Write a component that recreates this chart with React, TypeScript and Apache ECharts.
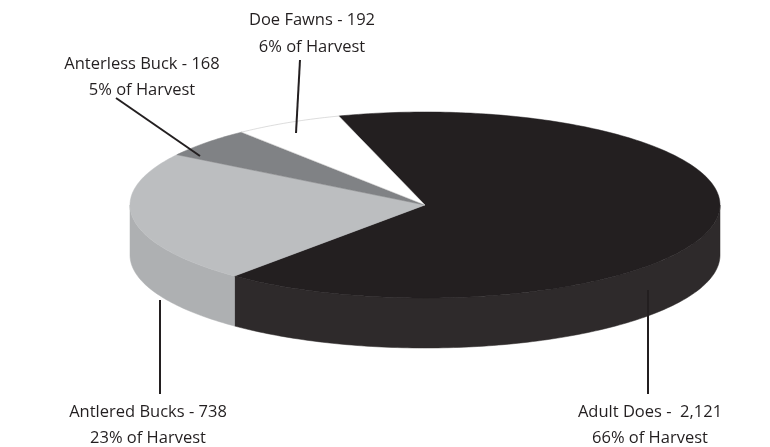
import React, { useEffect, useRef } from "react";
import * as echarts from "echarts";

const names = ["Adult Does", "Antlered Bucks", "Anterless Buck", "Doe Fawns"];
const values = [2121, 738, 168, 192];
const topColors = ["#231f20", "#bcbec0", "#808285", "#ffffff"];
const sideColors = ["#2e2a2b", "#aeb0b2", "#6d6f72", "#e6e6e6"];

const CX = 425, CY = 205, RX = 295, RY = 93, DEPTH = 50;
const START = (-107 * Math.PI) / 180;

const total = values.reduce((a, b) => a + b, 0);
const pct = values.map((v) => Math.round((v / total) * 100));

const pt = (a: number, dy = 0) => [CX + RX * Math.cos(a), CY + RY * Math.sin(a) + dy];

const arc = (a0: number, a1: number, dy = 0) => {
  const n = Math.max(2, Math.ceil(((a1 - a0) * 180) / Math.PI));
  const out: number[][] = [];
  for (let i = 0; i <= n; i++) out.push(pt(a0 + ((a1 - a0) * i) / n, dy));
  return out;
};

const App = () => {
  const ref = useRef<HTMLDivElement>(null);
  useEffect(() => {
    const chart = echarts.init(ref.current as HTMLDivElement, null, { renderer: "svg" });
    const starts: number[] = [];
    let acc = START;
    values.forEach((v) => {
      starts.push(acc);
      acc += (v / total) * Math.PI * 2;
    });
    const font = "Open Sans";
    const label = (x: number, y: number, t: string) => ({
      type: "text",
      x,
      y,
      style: { text: t, font: `16.5px '${font}'`, fill: "#231f20", textAlign: "center", textVerticalAlign: "middle" },
    });
    const line = (x1: number, y1: number, x2: number, y2: number) => ({
      type: "line",
      z: 10,
      shape: { x1, y1, x2, y2 },
      style: { stroke: "#231f20", lineWidth: 2 },
    });
    chart.setOption({
      animation: false,
      series: [
        {
          type: "custom",
          coordinateSystem: "none",
          data: values.map((_, i) => [i]),
          renderItem: (params: any, api: any) => {
            const i = api.value(0);
            const a0 = starts[i];
            const a1 = a0 + (values[i] / total) * Math.PI * 2;
            const children: any[] = [];
            // visible front wall: angles where sin > 0
            for (const k of [-2, 0, 2]) {
              const lo = Math.max(a0, k * Math.PI);
              const hi = Math.min(a1, k * Math.PI + Math.PI);
              if (hi > lo) {
                const top = arc(lo, hi);
                const bot = arc(lo, hi, DEPTH).reverse();
                children.push({
                  type: "polygon",
                  shape: { points: top.concat(bot) },
                  style: { fill: sideColors[i], stroke: i === 3 ? "#aaa" : sideColors[i], lineWidth: 0.5 },
                });
              }
            }
            children.push({
              type: "polygon",
              z2: 5,
              shape: { points: [[CX, CY]].concat(arc(a0, a1)) },
              style: { fill: topColors[i], stroke: i === 3 ? "#bbb" : topColors[i], lineWidth: 0.5 },
            });
            return { type: "group", children };
          },
        },
      ],
      graphic: [
        label(312, 18, `${names[3]} - ${values[3]}`),
        label(312, 45, `${pct[3]}% of Harvest`),
        label(142, 62, `${names[2]} - ${values[2]}`),
        label(142, 88, `${pct[2]}% of Harvest`),
        label(148, 410, `${names[1]} - ${values[1]}`),
        label(148, 436, `${pct[1]}% of Harvest`),
        label(650, 410, `${names[0]} -  ${values[0].toLocaleString("en-US")}`),
        label(650, 436, `${pct[0]}% of Harvest`),
        line(300, 60, 296, 133),
        line(116, 98, 200, 156),
        line(160, 394, 160, 300),
        line(648, 394, 648, 290),
      ],
    });
    return () => chart.dispose();
  }, []);
  return <div ref={ref} style={{ position: "fixed", left: 0, top: 0, width: 770, height: 447 }} />;
};

export default App;
